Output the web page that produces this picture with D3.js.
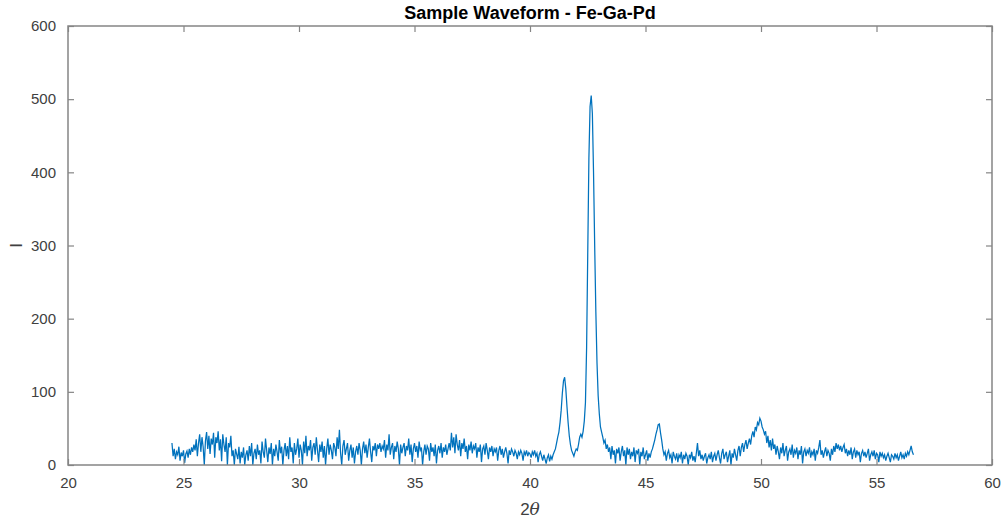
<!DOCTYPE html>
<html>
<head>
<meta charset="utf-8">
<script src="https://cdn.jsdelivr.net/npm/d3@7"></script>
<style>
body{margin:0;background:#fff;}
svg{display:block;font-family:"Liberation Sans",Arial,sans-serif;}
</style>
</head>
<body>
<div id="chart"></div>
<script>
// 2theta grid of the scan
const twoThetaStart = 24.5;
const twoThetaStep = 0.05;

// intensity, one row per degree (20 samples)
const intensity = [
  30,12,22,8,18,14,25,6,17,12,20,3,15,19,10,22,14,24,18,28,
  20,35,12,30,42,18,38,25,0,33,45,22,40,15,36,28,44,10,38,30,
  46,20,35,5,42,28,18,38,0,30,24,40,12,20,0,22,15,8,25,2,
  18,10,24,0,14,20,6,26,12,30,0,16,22,8,28,14,20,2,32,18,
  10,36,20,4,24,15,30,0,22,12,28,18,6,34,16,25,0,20,30,12,
  26,8,38,18,24,2,30,14,22,36,10,28,20,0,32,16,40,12,26,20,
  34,6,24,30,14,38,20,4,28,18,32,10,26,0,22,36,14,28,20,8,
  30,24,12,38,22,48,16,0,26,34,14,22,30,6,20,28,10,24,2,18,
  26,14,30,20,0,22,32,16,28,10,24,36,18,4,26,20,30,12,28,22,
  30,18,26,22,34,10,28,20,42,14,24,30,8,26,18,32,22,0,28,16,
  24,30,12,26,20,36,14,28,4,22,30,18,26,10,32,20,24,0,18,28,
  14,26,22,6,30,18,24,12,28,2,20,26,16,30,10,24,18,28,14,22,
  30,20,44,24,38,16,42,28,20,34,12,30,22,36,18,26,8,28,20,32,
  16,26,22,30,10,24,18,28,4,22,26,14,30,20,8,24,18,26,12,22,
  18,24,6,20,26,14,22,10,18,24,16,2,20,14,22,18,12,20,16,8,
  18,14,20,16,6,18,14,20,12,17,15,10,18,14,20,12,16,4,14,18,
  12,6,14,8,2,10,14,5,12,8,14,18,22,30,38,45,58,75,98,115,
  120,104,80,58,40,28,20,16,12,18,22,20,28,38,42,38,46,60,85,160,
  290,420,490,505,480,400,300,210,140,95,70,52,45,38,30,34,22,28,18,24,
  8,26,14,20,2,22,16,24,6,18,26,12,20,0,24,14,22,8,18,12,
  24,4,20,16,22,0,18,12,24,8,14,20,6,16,10,18,22,28,34,42,
  48,55,56,44,34,22,14,18,6,16,20,10,14,2,18,12,8,16,4,14,
  10,18,2,14,8,16,12,0,14,10,18,6,12,4,16,30,12,20,8,14,
  6,12,16,2,10,14,8,18,4,12,16,6,14,20,10,2,16,22,8,14,
  18,4,12,20,0,16,10,22,14,6,20,26,12,24,30,18,28,34,22,30,
  36,28,40,46,38,52,48,58,55,64,60,52,48,42,46,30,40,24,34,20,
  36,22,28,14,26,18,8,24,16,30,12,20,26,6,18,22,14,28,10,20,
  16,24,8,20,14,26,2,18,22,12,20,16,24,10,18,14,22,6,20,16,
  24,34,14,20,10,18,24,12,20,16,6,22,14,26,18,30,22,28,20,26,
  18,24,28,16,22,12,20,14,24,8,18,22,10,20,14,18,4,16,20,12,
  18,10,16,22,6,14,18,12,20,8,16,14,4,18,12,16,10,14,6,12,
  16,10,4,14,12,8,16,10,14,6,12,18,10,14,8,16,12,18,14,20,
  26,18,14
];

const xTicks = [20,25,30,35,40,45,50,55,60];
const yTicks = [0,100,200,300,400,500,600];
const titleText = "Sample Waveform - Fe-Ga-Pd";

const width = 1004, height = 523;
const margin = {left: 68, right: 12, top: 26, bottom: 58};

const svg = d3.select("#chart").append("svg")
  .attr("width", width)
  .attr("height", height);

const x = d3.scaleLinear().domain([20, 60]).range([margin.left, width - margin.right]);
const y = d3.scaleLinear().domain([0, 600]).range([height - margin.bottom, margin.top]);

const axisColor = "#858585";
const textColor = "#404040";

// data line
const data = intensity.map((v, i) => ({t: twoThetaStart + i * twoThetaStep, v: v}));
const line = d3.line().x(d => x(d.t)).y(d => y(d.v));
svg.append("path")
  .datum(data)
  .attr("fill", "none")
  .attr("stroke", "#0072BD")
  .attr("stroke-width", 1.25)
  .attr("d", line);

// axes, MATLAB style (box, inward ticks)
function styleAxis(g){
  g.select(".domain").remove();
  g.selectAll(".tick line").attr("stroke", axisColor).attr("stroke-width", 1.2);
  g.selectAll(".tick text").attr("fill", textColor).style("font-size", "15px");
}

svg.append("g")
  .attr("transform", `translate(0,${y(0)})`)
  .call(d3.axisBottom(x).tickValues(xTicks).tickSizeInner(-6).tickSizeOuter(0).tickPadding(12))
  .call(styleAxis);
svg.append("g")
  .attr("transform", `translate(0,${y(600)})`)
  .call(d3.axisTop(x).tickValues(xTicks).tickSizeInner(-6).tickSizeOuter(0).tickFormat(""))
  .call(styleAxis);
svg.append("g")
  .attr("transform", `translate(${x(20)},0)`)
  .call(d3.axisLeft(y).tickValues(yTicks).tickSizeInner(-6).tickSizeOuter(0).tickPadding(12))
  .call(styleAxis);
svg.append("g")
  .attr("transform", `translate(${x(60)},0)`)
  .call(d3.axisRight(y).tickValues(yTicks).tickSizeInner(-6).tickSizeOuter(0).tickFormat(""))
  .call(styleAxis);

svg.append("rect")
  .attr("x", x(20)).attr("y", y(600))
  .attr("width", x(60) - x(20)).attr("height", y(0) - y(600))
  .attr("fill", "none").attr("stroke", axisColor).attr("stroke-width", 1.5);

// title and labels
svg.append("text")
  .attr("x", (x(20) + x(60)) / 2).attr("y", 19)
  .attr("text-anchor", "middle")
  .style("font-size", "18px").style("font-weight", "bold")
  .attr("fill", "#000")
  .text(titleText);

const xl = svg.append("text")
  .attr("x", (x(20) + x(60)) / 2).attr("y", 515)
  .attr("text-anchor", "middle")
  .style("font-size", "17px")
  .attr("fill", textColor);
xl.append("tspan").text("2");
xl.append("tspan").style("font-style", "italic").style("font-family", "'DejaVu Serif',serif").text("θ");

svg.append("text")
  .attr("transform", `translate(22,${(y(0) + y(600)) / 2}) rotate(-90)`)
  .attr("text-anchor", "middle")
  .style("font-size", "17px")
  .attr("fill", textColor)
  .text("I");
</script>
</body>
</html>
